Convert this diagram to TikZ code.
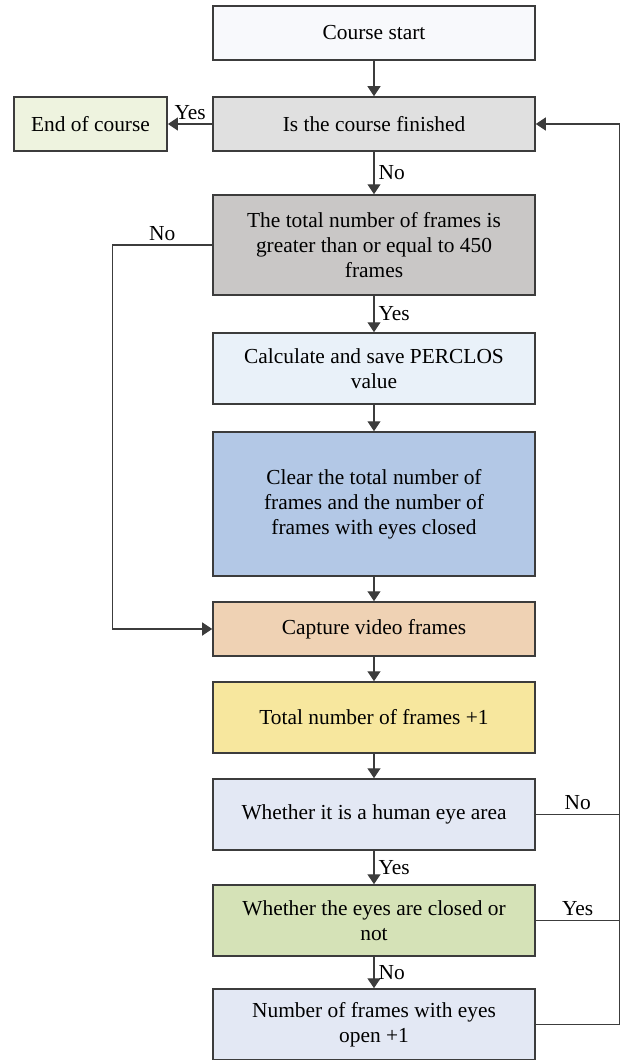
\documentclass[tikz,border=0pt]{standalone}
\usepackage{fontspec}
\setmainfont{Liberation Serif}
\usetikzlibrary{shapes.geometric, arrows.meta}
\usetikzlibrary{calc, positioning}
\definecolor{startc}{HTML}{F8F9FC}
\definecolor{finishc}{HTML}{E0E0E0}
\definecolor{endc}{HTML}{EEF3DF}
\definecolor{totalc}{HTML}{C9C7C6}
\definecolor{calcc}{HTML}{E9F1F9}
\definecolor{clearc}{HTML}{B3C8E6}
\definecolor{capturec}{HTML}{EFD2B4}
\definecolor{plusc}{HTML}{F7E79E}
\definecolor{eyec}{HTML}{E3E8F4}
\definecolor{closedc}{HTML}{D5E2B7}
\definecolor{linec}{HTML}{3C3C3C}
\tikzstyle{process} = [rectangle, minimum width=161pt, minimum height=27pt, text badly centered, text width=138pt, draw=linec, line width=0.75pt, font=\fontsize{10.7}{12.5}\selectfont]
\tikzstyle{arrow} = [line width=0.65pt, draw=linec, -{Triangle[length=5pt,width=6.5pt]}]
\tikzstyle{line} = [line width=0.65pt, draw=linec]
\tikzstyle{lbl} = [font=\fontsize{10.7}{12.5}\selectfont, inner sep=2pt]

\begin{document}
\begin{tikzpicture}[node distance=52pt]
			\useasboundingbox (-187pt,16.5pt) rectangle (123pt,-513.5pt);
			\node(start)[process, fill=startc] at (0,0) {Course start};
			\node(finish)[process, fill=finishc, below of=start, yshift=6.5pt]{Is the course finished};
			\node(end)[process, fill=endc, left of=finish, xshift=-89.75pt, minimum width=75.5pt, text width=70pt]{End of course};
			\node(total)[process, fill=totalc, below of=finish, yshift=-8.5pt, minimum height=50pt]{The total number of frames is greater than or equal to 450 frames};
			\node(calc)[process, fill=calcc, below of=total, yshift=-9.75pt, minimum height=35.5pt]{Calculate and save PERCLOS value};
			\node(clear)[process, fill=clearc, below of=calc, yshift=-15.75pt, minimum height=72pt]{Clear the total number of frames and the number of frames with eyes closed};
			\node(capture)[process, fill=capturec, below of=clear, yshift=-10.5pt]{Capture video frames};
			\node(plus)[process, fill=plusc, below of=capture, yshift=7.75pt, minimum height=35.5pt]{Total number of frames +1};
			\node(eyearea)[process, fill=eyec, below of=plus, yshift=3.5pt, minimum height=35.5pt]{Whether it is a human eye area};
			\node(closed)[process, fill=closedc, below of=eyearea, yshift=-1pt, minimum height=35.5pt]{Whether the eyes are closed or not};
			\node(open)[process, fill=eyec, below of=closed, minimum height=35.5pt]{Number of frames with eyes open +1};
			
			\coordinate (back) at ($(total.west)+(-50pt,0)$);
			\coordinate (loop) at ($(finish.east)+(42pt,0)$);
			
			\draw [arrow] (start) -- (finish);
			\draw [arrow] (finish) -- node[lbl, above]{Yes} (end);
			\draw [arrow] (finish) -- node[lbl, right]{No} (total);
			\draw [arrow] (total) -- node[lbl, right]{Yes} (calc);
			\draw [arrow] (calc) -- (clear);
			\draw [arrow] (clear) -- (capture);
			\draw [arrow] (total.west) -- node[lbl, above]{No} (back) -- (back |- capture) -- (capture.west);
			\draw [arrow] (capture) -- (plus);
			\draw [arrow] (plus) -- (eyearea);
			\draw [arrow] (eyearea) -- node[lbl, right]{Yes} (closed);
			\draw [arrow] (closed) -- node[lbl, right]{No} (open);
			\draw [line] (eyearea.east) -- node[lbl, above]{No} (eyearea.east -| loop);
			\draw [line] (closed.east) -- node[lbl, above]{Yes} (closed.east -| loop);
			\draw [arrow] (open.east) -- (open.east -| loop) -- (loop) -- (finish.east);
\end{tikzpicture}
\end{document}
